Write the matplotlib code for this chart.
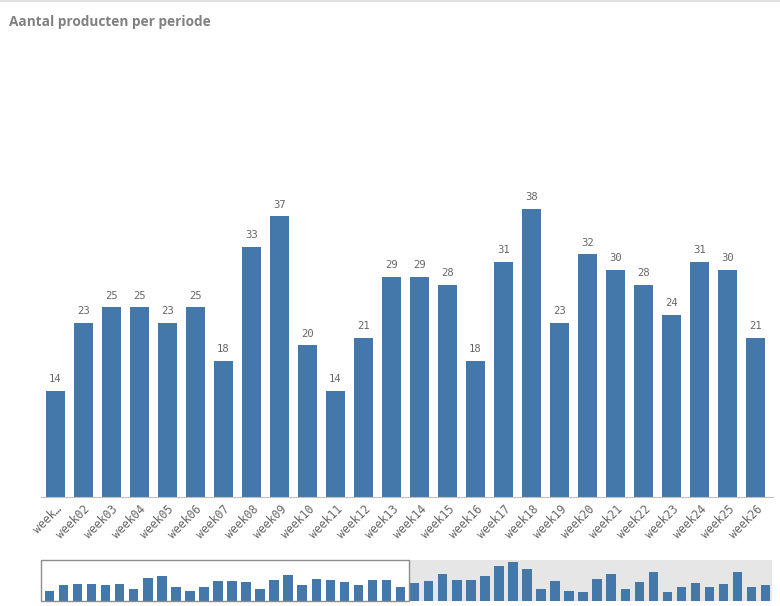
import numpy as np
import matplotlib.pyplot as plt
from matplotlib.patches import Rectangle
from matplotlib.lines import Line2D

# --- data ---
weken = ['week01', 'week02', 'week03', 'week04', 'week05', 'week06', 'week07',
         'week08', 'week09', 'week10', 'week11', 'week12', 'week13', 'week14',
         'week15', 'week16', 'week17', 'week18', 'week19', 'week20', 'week21',
         'week22', 'week23', 'week24', 'week25', 'week26']
aantal = [14, 23, 25, 25, 23, 25, 18, 33, 37, 20, 14, 21, 29, 29, 28, 18,
          31, 38, 23, 32, 30, 28, 24, 31, 30, 21]
# rest van het jaar (alleen zichtbaar in de scrollbalk)
aantal_rest = [26, 29, 39, 31, 30, 36, 51, 57, 47, 18, 29, 15, 13, 32, 39, 18,
               28, 42, 13, 21, 26, 21, 25, 42, 21, 24]
tick_labels = ['week…'] + weken[1:]

kleur = '#4477aa'
grijs = '#666666'

fig = plt.figure(figsize=(7.8, 6.06), dpi=100)
fig.patch.set_facecolor('white')

# bovenlijn en titel
fig.add_artist(Line2D([0, 1], [0.998, 0.998], color='#d9d9d9', lw=1.2))
fig.text(0.011, 0.964, 'Aantal producten per periode', fontsize=9.8,
         fontweight='bold', color='#808080', family='Open Sans', va='center')

# --- hoofdgrafiek ---
ax = fig.add_axes([0.0526, 0.1799, 0.9384, 0.7706])
x = np.arange(len(weken))
ax.bar(x, aantal, width=0.68, color=kleur)
for xi, v in zip(x, aantal):
    ax.text(xi, v + 0.9, str(v), ha='center', va='bottom', fontsize=7.6,
            color=grijs, family='DejaVu Sans Mono')
ax.set_xlim(-0.52, 25.62)
ax.set_ylim(0, 61.6)
ax.set_xticks(x)
ax.set_xticklabels(tick_labels, rotation=45, ha='right', rotation_mode='anchor',
                   fontsize=8.3, color=grijs, family='DejaVu Sans Mono')
ax.tick_params(axis='x', length=0, pad=4)
ax.set_yticks([])
for s in ['top', 'right', 'left']:
    ax.spines[s].set_visible(False)
ax.spines['bottom'].set_color('#bfbfbf')

# --- scrollbalk met alle weken ---
alles = aantal + aantal_rest
mx = fig.add_axes([0.0526, 0.0083, 0.9372, 0.0677])
mx.add_patch(Rectangle((25.57, 0), 51.45 - 25.57, 60, color='#e6e6e6', lw=0, zorder=0))
mx.bar(np.arange(len(alles)), alles, width=0.68, color=kleur, zorder=2)
mx.add_patch(Rectangle((-0.6, 0), 26.17, 60, fill=False, edgecolor='#8c8c8c',
                       lw=1.0, zorder=3, clip_on=False))
mx.set_xlim(-0.6, 51.45)
mx.set_ylim(0, 60)
mx.axis('off')

fig.savefig('out.png', dpi=100)
